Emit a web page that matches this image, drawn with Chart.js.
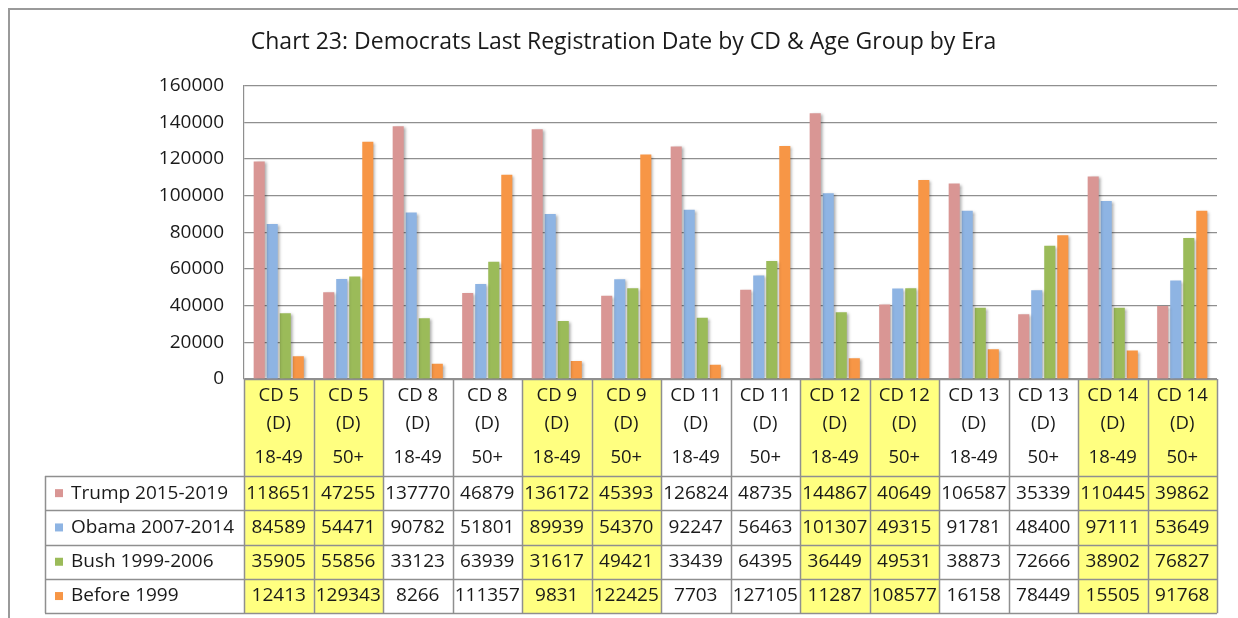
<!DOCTYPE html>
<html>
<head>
<meta charset="utf-8">
<script src="https://cdn.jsdelivr.net/npm/chart.js@4"></script>
<style>
  html, body { margin: 0; padding: 0; background: #fff; }
  #wrap { width: 1238px; height: 618px; }
</style>
</head>
<body>
<div id="wrap"><canvas id="regChart" width="1238" height="618"></canvas></div>
<script>
// {Chart 23 - Democrats last registration date by CD & age group}

// x축 카테고리
const districts = ['CD 5', 'CD 5', 'CD 8', 'CD 8', 'CD 9', 'CD 9', 'CD 11', 'CD 11', 'CD 12', 'CD 12', 'CD 13', 'CD 13', 'CD 14', 'CD 14'];
const ageGroups = ['18-49', '50+', '18-49', '50+', '18-49', '50+', '18-49', '50+', '18-49', '50+', '18-49', '50+', '18-49', '50+'];
// 노란색 칸 (표)
const highlighted = [true, true, false, false, true, true, false, false, true, true, false, false, true, true];

// 시리즈 값
const trump = [118651, 47255, 137770, 46879, 136172, 45393, 126824, 48735, 144867, 40649, 106587, 35339, 110445, 39862];
const obama = [84589, 54471, 90782, 51801, 89939, 54370, 92247, 56463, 101307, 49315, 91781, 48400, 97111, 53649];
const bush = [35905, 55856, 33123, 63939, 31617, 49421, 33439, 64395, 36449, 49531, 38873, 72666, 38902, 76827];
const before1999 = [12413, 129343, 8266, 111357, 9831, 122425, 7703, 127105, 11287, 108577, 16158, 78449, 15505, 91768];

const seriesNames = ['Trump 2015-2019', 'Obama 2007-2014', 'Bush 1999-2006', 'Before 1999'];
const seriesColors = ['#D99694', '#8EB4E3', '#9BBB59', '#F79646'];

// y축 눈금
const yMin = 0;
const yMax = 160000;
const yStep = 20000;

const FONT = '"Open Sans", "Liberation Sans", sans-serif';
const TEXT = '#1a1a1a';
const LINE = '#8f8f8f';

// 그림자 + 데이터 표 그리기
const tablePlugin = {
    id: 'dataTable',
    beforeDraw(chart) {
        const ctx = chart.ctx;
        ctx.save();
        ctx.strokeStyle = '#9a9a9a';
        ctx.lineWidth = 2;
        ctx.strokeRect(9, 9, 1400, 800);
        ctx.restore();
    },
    beforeDatasetsDraw(chart) {
        const ctx = chart.ctx;
        ctx.save();
        ctx.shadowColor = 'rgba(0,0,0,0.35)';
        ctx.shadowBlur = 3;
        ctx.shadowOffsetX = 2;
        ctx.shadowOffsetY = 1;
    },
    afterDatasetsDraw(chart) {
        chart.ctx.restore();
    },
    afterDraw(chart) {
        const ctx = chart.ctx;
        const area = chart.chartArea;
        const xs = chart.scales.x;
        const n = districts.length;
        const colW = (area.right - area.left) / n;
        const top = area.bottom;
        const headH = 97;
        const rowH = 34.3;
        const legendLeft = 45;
        const rowsTop = top + headH;
        const bottom = rowsTop + rowH * 4;

        ctx.save();
        // 노란 배경
        ctx.fillStyle = '#FFFF80';
        for (let i = 0; i < n; i++) {
            if (highlighted[i]) {
                ctx.fillRect(area.left + i * colW, top, colW, bottom - top);
            }
        }

        // 선
        ctx.strokeStyle = LINE;
        ctx.lineWidth = 1.5;
        ctx.beginPath();
        ctx.moveTo(area.left, top + 0.5);
        ctx.lineTo(area.right, top + 0.5);
        for (let r = 0; r <= 4; r++) {
            const y = Math.round(rowsTop + r * rowH) + 0.5;
            ctx.moveTo(legendLeft, y);
            ctx.lineTo(area.right, y);
        }
        for (let i = 0; i <= n; i++) {
            const x = Math.round(area.left + i * colW) + 0.5;
            ctx.moveTo(x, top);
            ctx.lineTo(x, bottom);
        }
        ctx.moveTo(legendLeft + 0.5, rowsTop);
        ctx.lineTo(legendLeft + 0.5, bottom);
        ctx.stroke();

        // 헤더 글자
        ctx.fillStyle = TEXT;
        ctx.textAlign = 'center';
        ctx.textBaseline = 'middle';
        ctx.font = '18.5px ' + FONT;
        for (let i = 0; i < n; i++) {
            const cx = xs.getPixelForValue(i);
            ctx.fillText(districts[i], cx, top + 17);
            ctx.fillText('(D)', cx, top + 45);
            ctx.fillText(ageGroups[i], cx, top + 79);
        }

        // 값 + 범례
        const rows = [trump, obama, bush, before1999];
        ctx.font = '19px ' + FONT;
        rows.forEach((vals, r) => {
            const cy = rowsTop + r * rowH + rowH / 2;
            ctx.textAlign = 'center';
            vals.forEach((v, i) => {
                ctx.fillText(String(v), xs.getPixelForValue(i), cy);
            });
            ctx.fillStyle = seriesColors[r];
            ctx.fillRect(55, cy - 4, 8, 8);
            ctx.fillStyle = TEXT;
            ctx.textAlign = 'left';
            ctx.fillText(seriesNames[r], 71, cy);
        });
        ctx.restore();
    }
};

const ChartR = document.getElementById('regChart');
const regChart = new Chart(ChartR, {
    type: 'bar',
    data: {
        labels: districts.map((d, i) => d + ' (D) ' + ageGroups[i]),
        datasets: seriesNames.map((name, k) => ({
            label: name,
            data: [trump, obama, bush, before1999][k],
            backgroundColor: seriesColors[k],
            borderWidth: 0,
            categoryPercentage: 0.75,
            barPercentage: 0.85
        }))
    },
    options: {
        responsive: false,
        animation: false,
        layout: { padding: { left: 30, right: 21, top: 0, bottom: 0 } },
        scales: {
            x: {
                grid: { display: false },
                border: { display: false },
                ticks: { display: false },
                afterFit(scale) { scale.height = 239; }
            },
            y: {
                min: yMin,
                max: yMax,
                ticks: {
                    stepSize: yStep,
                    padding: 20,
                    color: TEXT,
                    font: { family: FONT, size: 19 },
                    callback: (v) => String(v)
                },
                grid: { color: LINE, lineWidth: 1.2, drawTicks: false },
                border: { display: true, color: LINE, width: 1.2 },
                afterFit(scale) { scale.width = 214; }
            }
        },
        plugins: {
            legend: { display: false },
            tooltip: { enabled: false },
            title: {
                display: true,
                position: 'top',
                text: 'Chart 23: Democrats Last Registration Date by CD & Age Group by Era',
                color: TEXT,
                padding: { top: 29, bottom: 29 },
                font: { family: FONT, size: 23, weight: 'normal' }
            }
        }
    },
    plugins: [tablePlugin]
});
</script>
</body>
</html>
